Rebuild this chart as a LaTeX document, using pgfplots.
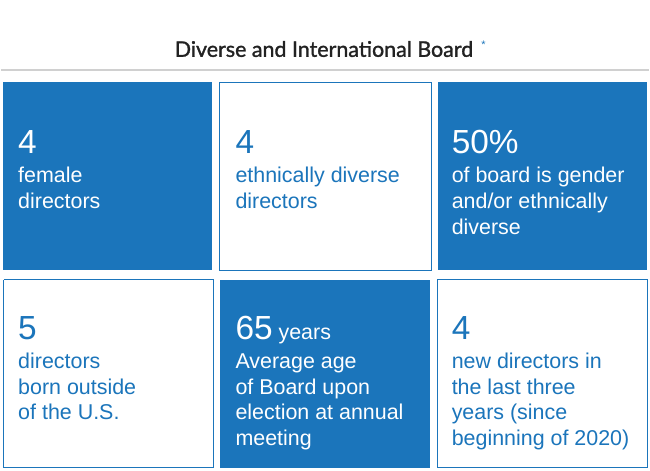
\documentclass[border=0pt]{standalone}
\usepackage{pgfplots}
\pgfplotsset{compat=1.18}
\usepackage{fontspec}
\setmainfont{Liberation Sans}
\newfontfamily\titlefont{Lato}[FakeBold=1.3]
\definecolor{bblue}{RGB}{27,117,187}
\definecolor{tgrey}{RGB}{34,34,34}
\definecolor{lgrey}{RGB}{208,208,208}
\newcommand{\bignum}{\fontsize{33.5}{36}\selectfont}
\newcommand{\txt}{\fontsize{21.5}{25}\selectfont}
\begin{document}
\begin{tikzpicture}
\begin{axis}[
  width=650pt, height=472pt, scale only axis,
  xmin=0, xmax=650, ymin=0, ymax=472, y dir=reverse,
  hide axis, clip=false,
]
% background extent
\addplot[draw=none, fill=white] coordinates {(0,0) (650,0) (650,472) (0,472)};
% separator line
\addplot[lgrey, line width=2.2pt] coordinates {(0,70) (650,70)};
% filled boxes
\addplot[draw=none, fill=bblue] coordinates {(2,82) (212,82) (212,271) (2,271)};
\addplot[draw=none, fill=bblue] coordinates {(438,82) (648,82) (648,271) (438,271)};
\addplot[draw=none, fill=bblue] coordinates {(220,281) (430,281) (430,470) (220,470)};
% outlined boxes
\addplot[bblue, line width=1pt] coordinates {(219.5,82.5) (431.5,82.5) (431.5,271.5) (219.5,271.5) (219.5,82.5)};
\addplot[bblue, line width=1pt] coordinates {(2.5,280.5) (213.5,280.5) (213.5,469.5) (2.5,469.5) (2.5,280.5)};
\addplot[bblue, line width=1pt] coordinates {(437.5,280.5) (648.5,280.5) (648.5,469.5) (437.5,469.5) (437.5,280.5)};

% title
\node[anchor=base, text=tgrey, font=\titlefont\fontsize{21.5}{24}\selectfont] at (axis cs:324,57) {Diverse and International Board};
\node[anchor=base, text=bblue, font=\fontsize{11}{12}\selectfont] at (axis cs:484,49) {*};

% box 1
\node[anchor=base west, inner sep=0pt, text=white, font=\bignum] at (axis cs:17,154) {4};
\node[anchor=base west, inner sep=0pt, text=white, font=\txt] at (axis cs:17,183) {female};
\node[anchor=base west, inner sep=0pt, text=white, font=\txt] at (axis cs:17,209) {directors};
% box 2
\node[anchor=base west, inner sep=0pt, text=bblue, font=\bignum] at (axis cs:235,154) {4};
\node[anchor=base west, inner sep=0pt, text=bblue, font=\txt] at (axis cs:235,183) {ethnically diverse};
\node[anchor=base west, inner sep=0pt, text=bblue, font=\txt] at (axis cs:235,209) {directors};
% box 3
\node[anchor=base west, inner sep=0pt, text=white, font=\bignum] at (axis cs:452,154) {50\%};
\node[anchor=base west, inner sep=0pt, text=white, font=\txt] at (axis cs:452,183) {of board is gender};
\node[anchor=base west, inner sep=0pt, text=white, font=\txt] at (axis cs:452,209) {and/or ethnically};
\node[anchor=base west, inner sep=0pt, text=white, font=\txt] at (axis cs:452,235) {diverse};
% box 4
\node[anchor=base west, inner sep=0pt, text=bblue, font=\bignum] at (axis cs:17,341) {5};
\node[anchor=base west, inner sep=0pt, text=bblue, font=\txt] at (axis cs:17,370) {directors};
\node[anchor=base west, inner sep=0pt, text=bblue, font=\txt] at (axis cs:17,396) {born outside};
\node[anchor=base west, inner sep=0pt, text=bblue, font=\txt] at (axis cs:17,421) {of the U.S.};
% box 5
\node[anchor=base west, inner sep=0pt, text=white] at (axis cs:235,341) {{\bignum 65}{\txt\ years}};
\node[anchor=base west, inner sep=0pt, text=white, font=\txt] at (axis cs:235,370) {Average age};
\node[anchor=base west, inner sep=0pt, text=white, font=\txt] at (axis cs:235,396) {of Board upon};
\node[anchor=base west, inner sep=0pt, text=white, font=\txt] at (axis cs:235,421) {election at annual};
\node[anchor=base west, inner sep=0pt, text=white, font=\txt] at (axis cs:235,447) {meeting};
% box 6
\node[anchor=base west, inner sep=0pt, text=bblue, font=\bignum] at (axis cs:452,341) {4};
\node[anchor=base west, inner sep=0pt, text=bblue, font=\txt] at (axis cs:452,370) {new directors in};
\node[anchor=base west, inner sep=0pt, text=bblue, font=\txt] at (axis cs:452,396) {the last three};
\node[anchor=base west, inner sep=0pt, text=bblue, font=\txt] at (axis cs:452,421) {years (since};
\node[anchor=base west, inner sep=0pt, text=bblue, font=\txt] at (axis cs:452,447) {beginning of 2020)};
\end{axis}
\end{tikzpicture}
\end{document}
